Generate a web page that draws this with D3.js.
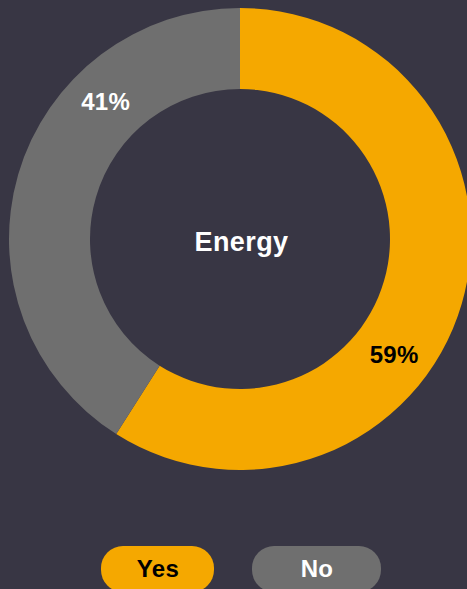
<!DOCTYPE html>
<html>
<head>
<meta charset="utf-8">
<script src="https://cdn.jsdelivr.net/npm/d3@7"></script>
<style>
  html, body { margin: 0; padding: 0; background: #383644; overflow: hidden; }
  svg { display: block; font-family: "Liberation Sans", Arial, Helvetica, sans-serif; font-weight: 700; }
</style>
</head>
<body>
<svg id="chart" width="467" height="589"></svg>
<script>
// Survey answers for the "Energy" question
const title = "Energy";
const categories = ["Yes", "No"];
const values = [59, 41];
const colors = ["#f5a800", "#6f6f6f"];
const labelColors = ["#000000", "#ffffff"];
// where each percentage sits inside its slice (fraction of the slice's sweep)
const labelSpots = [0.597, 0.70];

const W = 467, H = 589;
const cx = 240, cy = 239, outerR = 231, innerR = 150;

const svg = d3.select("#chart");
svg.append("rect").attr("width", W).attr("height", H).attr("fill", "#383644");

const pie = d3.pie().sort(null).value(d => d)(values);
const arc = d3.arc().innerRadius(innerR).outerRadius(outerR);

const g = svg.append("g").attr("transform", `translate(${cx},${cy})`);

g.selectAll("path.slice")
  .data(pie)
  .join("path")
  .attr("class", "slice")
  .attr("d", arc)
  .attr("fill", (d, i) => colors[i]);

const total = d3.sum(values);
const labelR = 192.5;
g.selectAll("text.pct")
  .data(pie)
  .join("text")
  .attr("class", "pct")
  .attr("transform", (d, i) => {
    const a = d.startAngle + (d.endAngle - d.startAngle) * labelSpots[i];
    return `translate(${labelR * Math.sin(a)},${-labelR * Math.cos(a)})`;
  })
  .attr("text-anchor", "middle")
  .attr("dy", "0.36em")
  .attr("font-size", 24)
  .attr("letter-spacing", 0.3)
  .attr("fill", (d, i) => labelColors[i])
  .text(d => Math.round(d.data / total * 100) + "%");

g.append("text")
  .attr("text-anchor", "middle")
  .attr("dy", "0.36em")
  .attr("x", 1.5)
  .attr("y", 2)
  .attr("font-size", 27)
  .attr("letter-spacing", 0.4)
  .attr("fill", "#ffffff")
  .text(title);

// Legend pills, one per answer, centred on a point scale
const pillW = [113, 129];
const legendX = d3.scalePoint().domain(categories).range([157.5, 316.5]);
const legend = svg.append("g").attr("transform", "translate(0,546)");
const item = legend.selectAll("g.item").data(categories).join("g")
  .attr("class", "item")
  .attr("transform", (d, i) => `translate(${legendX(d) - pillW[i] / 2},0)`);
item.append("rect")
  .attr("width", (d, i) => pillW[i])
  .attr("height", 46)
  .attr("rx", 22)
  .attr("fill", (d, i) => colors[i]);
item.append("text")
  .attr("x", (d, i) => pillW[i] / 2 + 0.5)
  .attr("y", 22.7)
  .attr("dy", "0.36em")
  .attr("text-anchor", "middle")
  .attr("font-size", 24)
  .attr("letter-spacing", 0.3)
  .attr("fill", (d, i) => labelColors[i])
  .text(d => d);
</script>
</body>
</html>
